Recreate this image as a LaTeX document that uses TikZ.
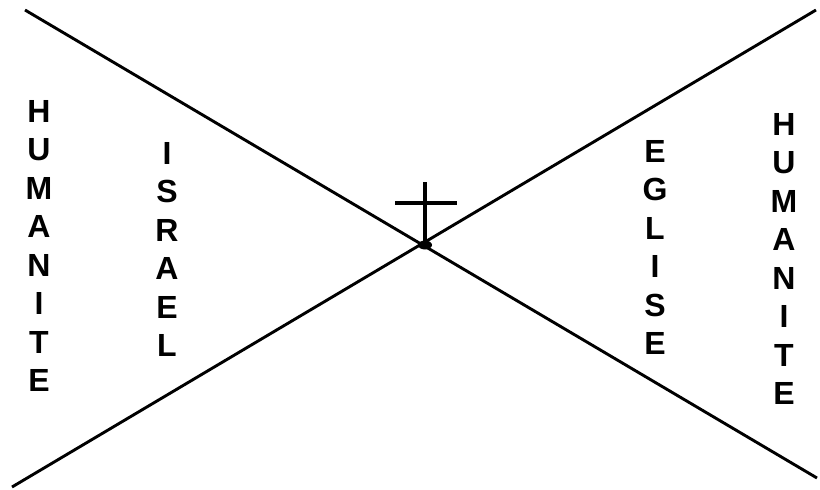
\documentclass[tikz,border=0pt]{standalone}
\usepackage{fontspec}
\setmainfont{Liberation Sans}
\usetikzlibrary{positioning}

\begin{document}
\begin{tikzpicture}[
  x=1pt, y=-1pt,
  column/.style={font=\fontsize{32}{38.5}\selectfont\bfseries, align=center,
    inner sep=0pt, anchor=north},
  ray/.style={line width=2.9pt},
  crossbar/.style={line width=3.4pt}
]
\useasboundingbox (0,0) rectangle (820,490);

% the two diagonals
\coordinate (tl) at (25,10);
\coordinate (br) at (817,478);
\coordinate (bl) at (12,487);
\coordinate (tr) at (816,10);
\draw[ray] (tl) -- (br);
\draw[ray] (bl) -- (tr);

% cross at the meeting point
\coordinate (foot) at (425,245);
\coordinate (top) at (425,182);
\coordinate (barl) at (395,203);
\coordinate (barr) at (457,203);
\draw[crossbar] (foot) -- (top);
\draw[crossbar] (barl) -- (barr);
\fill (foot) ellipse (7 and 4.5);

% words, one letter per line
\node[column] (humL) at (39,100) {H\\U\\M\\A\\N\\I\\T\\E};
\node[column] (israel) at (167,142) {I\\S\\R\\A\\E\\L};
\node[column] (eglise) at (655,140) {E\\G\\L\\I\\S\\E};
\node[column] (humR) at (784,113) {H\\U\\M\\A\\N\\I\\T\\E};

\end{tikzpicture}
\end{document}
